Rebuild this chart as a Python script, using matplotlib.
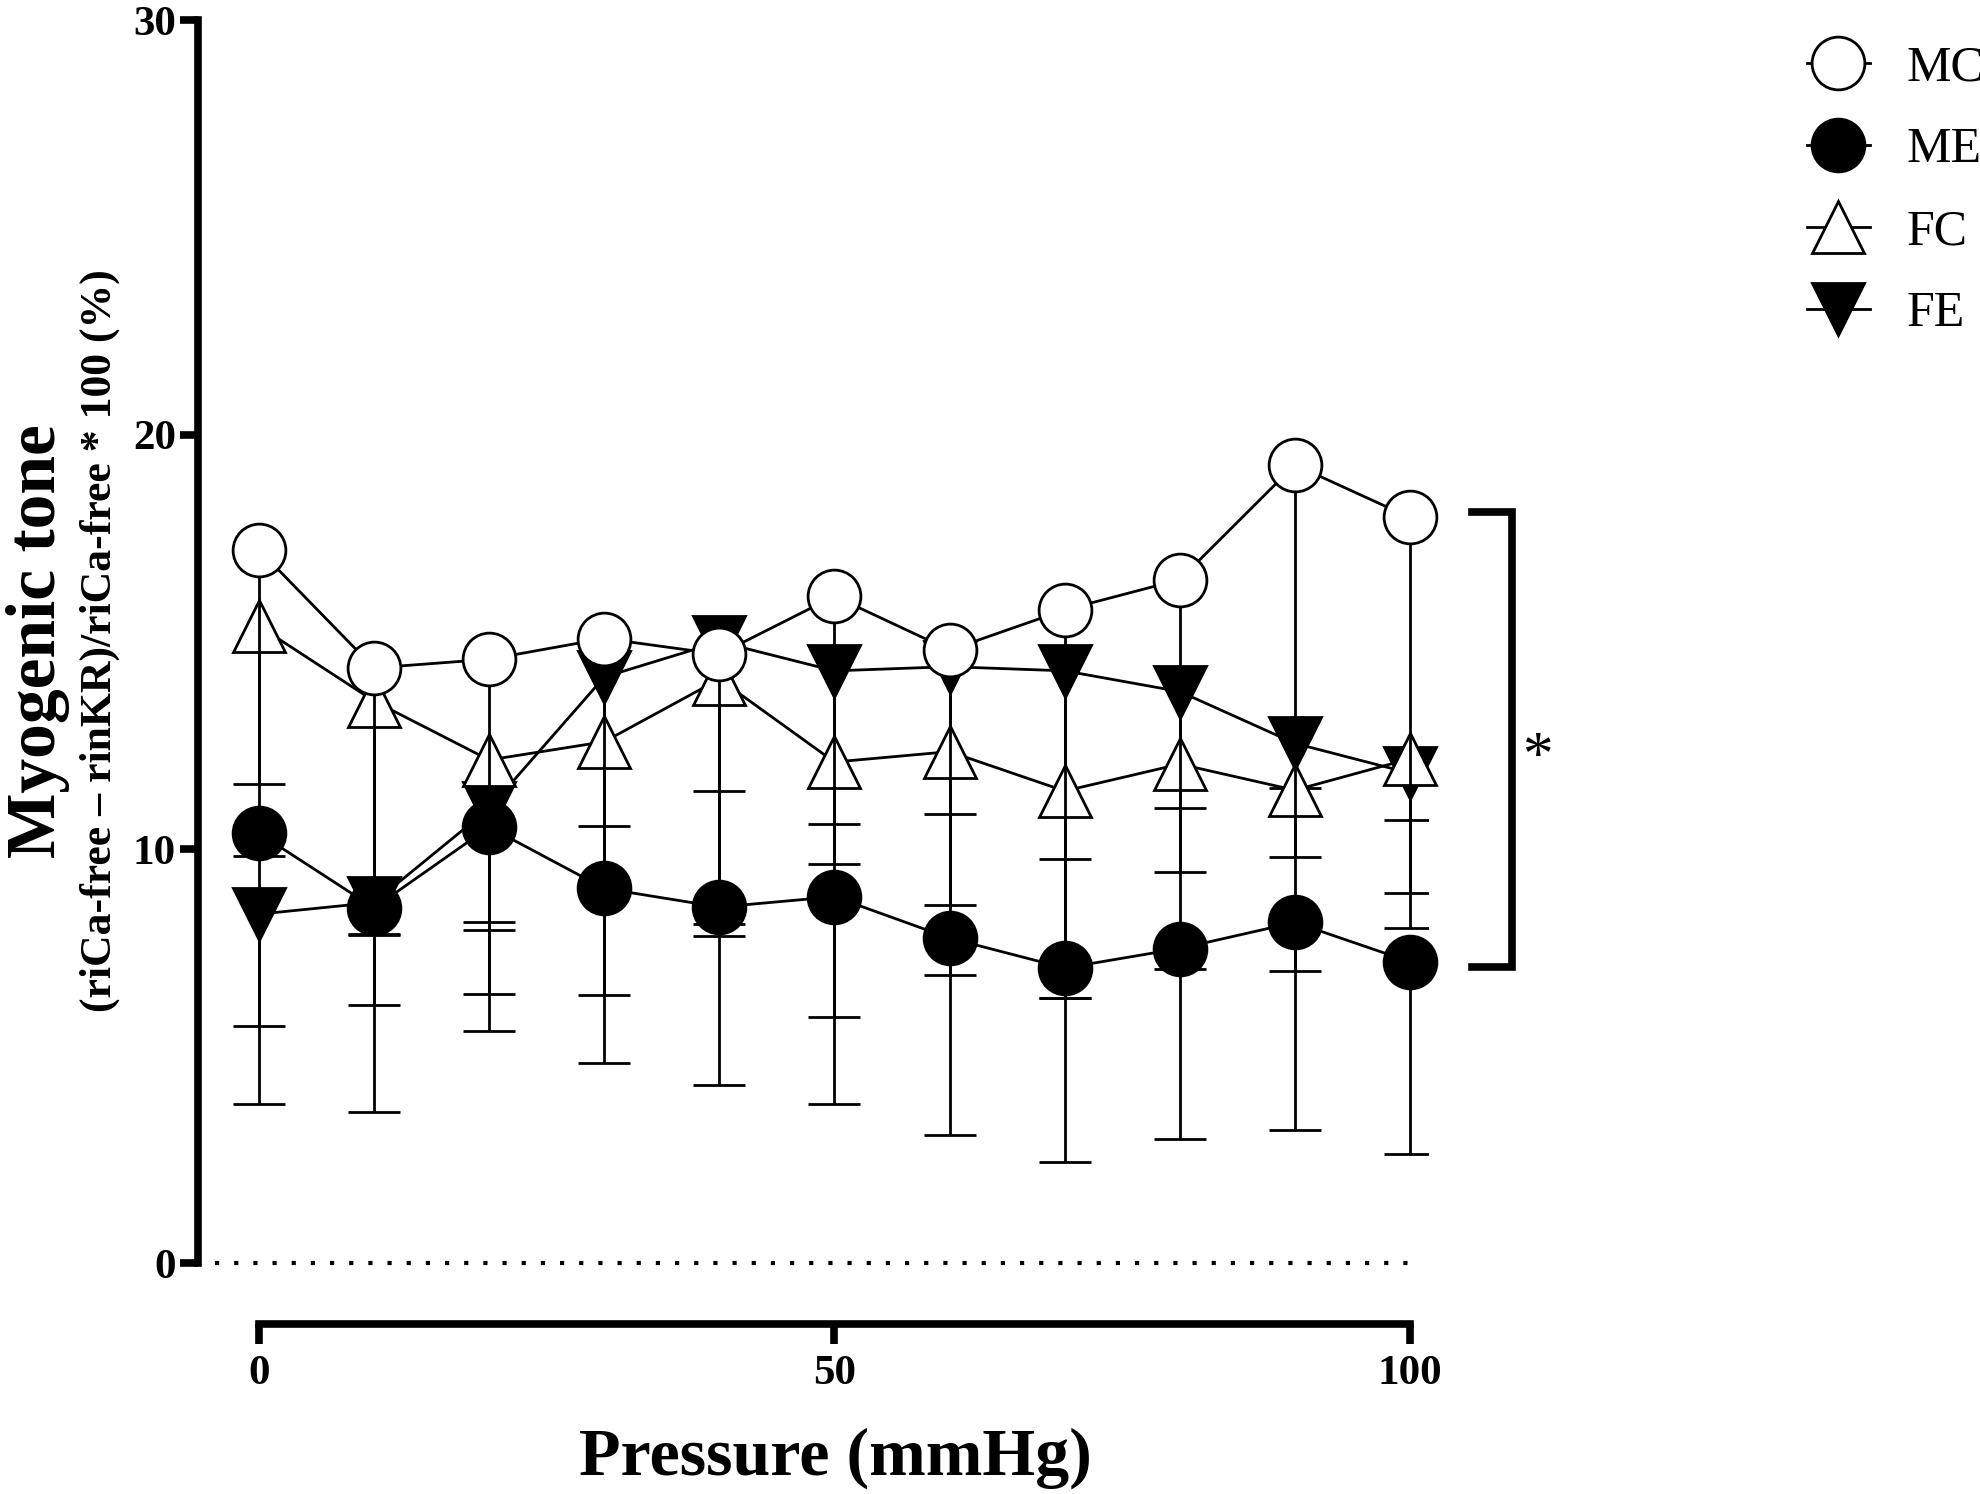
import matplotlib
matplotlib.use('Agg')
import matplotlib.pyplot as plt
import numpy as np

plt.rcParams['font.family'] = ['Liberation Serif', 'DejaVu Serif']

# pressure steps (mmHg)
pressure = [0, 10, 20, 30, 40, 50, 60, 70, 80, 90, 100]

# mean and SD (error bars drawn downward only)
mc_mean = [17.22, 14.37, 14.58, 15.08, 14.70, 16.10, 14.80, 15.77, 16.50, 19.27, 18.00]
mc_sd = [5.64, 10.71, 6.33, 4.53, 10.40, 5.50, 3.95, 6.02, 5.50, 16.05, 7.30]

me_mean = [10.38, 8.58, 10.53, 9.05, 8.60, 8.85, 7.85, 7.13, 7.60, 8.23, 7.28]
me_sd = [0.55, 0.65, 2.48, 2.57, 0.70, 2.90, 0.90, 0.72, 0.50, 1.18, 4.63]

fc_mean = [15.38, 13.57, 12.15, 12.59, 14.10, 12.10, 12.35, 11.40, 12.05, 11.42, 12.18]
fc_sd = [11.54, 7.34, 6.53, 7.75, 5.92, 2.45, 9.25, 5.00, 2.61, 1.62, 3.23]

fe_mean = [8.43, 8.71, 10.98, 14.15, 15.00, 14.30, 14.40, 14.30, 13.80, 12.55, 11.83]
fe_sd = [2.71, 0.76, 4.47, 5.05, 3.60, 10.45, 5.75, 11.85, 10.80, 1.08, 3.73]

fig = plt.figure(figsize=(19.81, 14.94), dpi=100)
ax = fig.add_axes([0.1001, 0.1543, 0.6206, 0.8322])

lw = 2.0
ms = 38
# drawing order: FE at the bottom, MC on top
series = [
    ('FE', fe_mean, fe_sd, 'v', 'black'),
    ('FC', fc_mean, fc_sd, '^', 'white'),
    ('ME', me_mean, me_sd, 'o', 'black'),
    ('MC', mc_mean, mc_sd, 'o', 'white'),
]
handles = {}
for i, (name, mean, sd, mk, face) in enumerate(series):
    z = 3 + i * 3
    mean = np.array(mean)
    sd = np.array(sd)
    ax.errorbar(pressure, mean, yerr=[sd, np.zeros_like(sd)], fmt='none',
                ecolor='black', elinewidth=lw, capsize=0, zorder=z)
    ax.plot(pressure, mean - sd, linestyle='none', marker='_', ms=ms,
            mew=lw, color='black', zorder=z)
    line, = ax.plot(pressure, mean, color='black', lw=lw, marker=mk, ms=ms,
                    mfc=face, mec='black', mew=lw, zorder=z + 1, clip_on=False)
    handles[name] = line

# dotted zero line
ax.hlines(0, -3.8, 100, colors='black', linestyles=(0, (1, 3.6)), lw=3,
          clip_on=False, zorder=2)

# significance bracket between MC and ME at 100 mmHg
bx0, bx1 = 105.4, 108.9
ax.plot([bx0, bx1, bx1, bx0], [18.13, 18.13, 7.15, 7.15], color='black',
        lw=5.5, solid_joinstyle='miter', clip_on=False)
ax.text(111.1, 12.2, '*', fontsize=44, ha='center', va='center')

ax.set_xlim(-5.27, 101.54)
ax.set_ylim(0, 30)
ax.set_xticks([0, 50, 100])
ax.set_yticks([0, 10, 20, 30])
for s in ['top', 'right']:
    ax.spines[s].set_visible(False)
ax.spines['left'].set_linewidth(5.5)
ax.spines['left'].set_bounds(0, 30)
ax.spines['bottom'].set_linewidth(5.5)
ax.spines['bottom'].set_bounds(0, 100)
ax.spines['bottom'].set_position(('outward', 43.6))
ax.tick_params(axis='y', direction='out', length=13, width=5.5, pad=3)
ax.tick_params(axis='x', direction='out', length=14.5, width=5.5, pad=8)
for lab in ax.get_xticklabels() + ax.get_yticklabels():
    lab.set_fontsize(31)
    lab.set_fontweight('bold')

fig.text(0.0192, 0.571, 'Myogenic tone', rotation=90, ha='center', va='center',
         fontsize=50, fontweight='bold')
fig.text(0.0505, 0.571, '(riCa-free \u2013 rinKR)/riCa-free * 100 (%)', rotation=90,
         ha='center', va='center', fontsize=31.5, fontweight='bold')
fig.text(0.4216, 0.024, 'Pressure (mmHg)', ha='center', va='center',
         fontsize=49, fontweight='bold')

order = ['MC', 'ME', 'FC', 'FE']
fig.legend([handles[k] for k in order], order, loc='upper left',
           bbox_to_anchor=(0.912, 0.970), frameon=False, fontsize=36,
           handlelength=1.26, handletextpad=0.74, labelspacing=0.71,
           borderpad=0, borderaxespad=0)

fig.savefig('out.png', dpi=100)
